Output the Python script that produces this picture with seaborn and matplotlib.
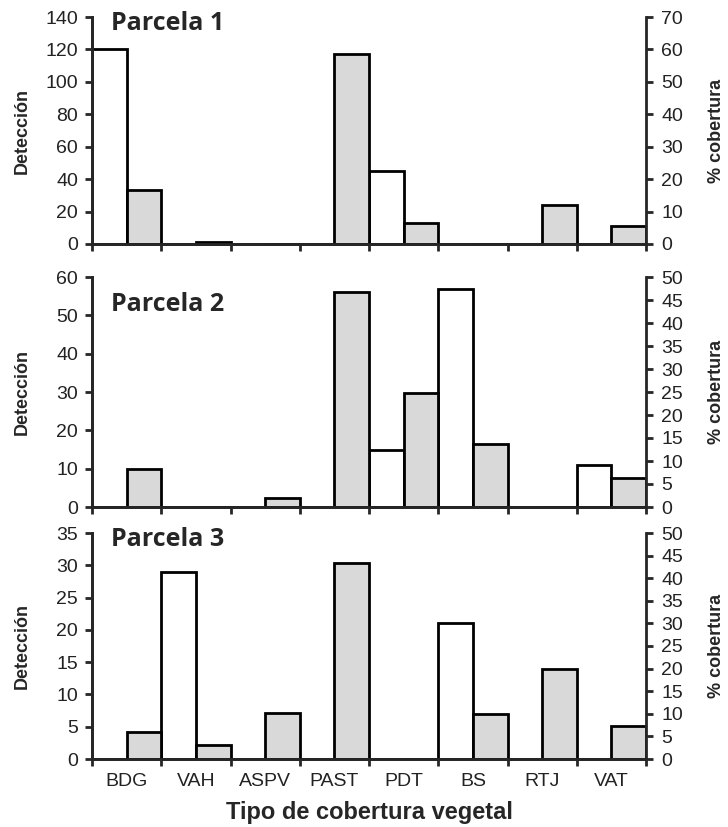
import numpy as np
import pandas as pd
import matplotlib
matplotlib.use("Agg")
import matplotlib.pyplot as plt
import seaborn as sns

# datos
categorias = ["BDG", "VAH", "ASPV", "PAST", "PDT", "BS", "RTJ", "VAT"]

deteccion_p1 = [120, 0, 0, 0, 45, 0, 0, 0]
cobertura_p1 = [16.5, 0.7, 0, 58.7, 6.5, 0, 12, 5.5]

deteccion_p2 = [0, 0, 0, 0, 15, 57, 0, 11]
cobertura_p2 = [8.2, 0, 1.9, 46.7, 24.7, 13.6, 0, 6.4]

deteccion_p3 = [0, 29, 0, 0, 0, 21, 0, 0]
cobertura_p3 = [5.9, 3.1, 10.2, 43.4, 0, 10, 20, 7.4]

titulos = ["Parcela 1", "Parcela 2", "Parcela 3"]
det_lims = [(140, 20), (60, 10), (35, 5)]
cob_lims = [(70, 10), (50, 5), (50, 5)]

sns.set_style("ticks")
plt.rcParams["font.family"] = ["Liberation Sans", "DejaVu Sans"]

GRIS = "#d9d9d9"
LW = 2.0
TICK_FS = 14


def panel(ax, det, cob, titulo, det_lim, cob_lim, ultimo, y_titulo):
    n = len(categorias)
    df = pd.DataFrame({
        "Tipo": categorias * 2,
        "Serie": ["det"] * n + ["cob"] * n,
        "det": list(det) + [np.nan] * n,
        "cob": [np.nan] * n + list(cob),
    })
    colores = {"det": "white", "cob": GRIS}
    sns.barplot(data=df, x="Tipo", y="det", hue="Serie", hue_order=["det", "cob"],
                palette=colores, width=1.0, dodge=True, saturation=1,
                edgecolor="black", linewidth=LW, errorbar=None, legend=False, ax=ax)
    ax2 = ax.twinx()
    sns.barplot(data=df, x="Tipo", y="cob", hue="Serie", hue_order=["det", "cob"],
                palette=colores, width=1.0, dodge=True, saturation=1,
                edgecolor="black", linewidth=LW, errorbar=None, legend=False, ax=ax2)

    ax.set_xlim(-0.5, n - 0.5)
    ax.set_ylim(0, det_lim[0])
    ax.set_yticks(np.arange(0, det_lim[0] + 0.1, det_lim[1]))
    ax2.set_ylim(0, cob_lim[0])
    ax2.set_yticks(np.arange(0, cob_lim[0] + 0.1, cob_lim[1]))

    ax.set_xticks(range(n))
    ax.set_xticks(np.arange(-0.5, n, 1.0), minor=True)
    ax.tick_params(axis="x", which="major", length=0, pad=10, labelsize=TICK_FS,
                   labelbottom=ultimo, labelcolor="#222222")
    ax.tick_params(axis="x", which="minor", length=5, width=LW, direction="out")
    ax.tick_params(axis="y", length=5, width=LW, direction="out", pad=5,
                   labelsize=TICK_FS, labelcolor="#222222")
    ax2.tick_params(axis="y", length=5, width=LW, direction="out", pad=6,
                    labelsize=TICK_FS, labelcolor="#222222")
    ax2.tick_params(axis="x", which="both", bottom=False, labelbottom=False)
    if ultimo:
        ax.set_xticklabels(categorias)

    ax.set_xlabel("")
    ax2.set_xlabel("")
    ax.set_ylabel("Detección", fontsize=13, fontweight="bold")
    ax2.set_ylabel("% cobertura", fontsize=13, fontweight="bold")
    ax.yaxis.set_label_coords(-0.11, 0.5)
    ax2.yaxis.set_label_coords(1.112, 0.5)

    for a in (ax, ax2):
        a.spines["top"].set_visible(False)
        for s in ("left", "right", "bottom"):
            a.spines[s].set_linewidth(LW)
    ax.spines["right"].set_visible(False)

    ax2.text(0.034, y_titulo, titulo, transform=ax2.transAxes, va="top", ha="left",
             fontsize=18, fontweight="bold", family=["Open Sans", "DejaVu Sans"])


fig = plt.figure(figsize=(7.28, 8.27), dpi=100)
izq, ancho = 92 / 728, 554 / 728
posiciones = [(17, 244), (277, 507), (533, 759)]
datos = [(deteccion_p1, cobertura_p1), (deteccion_p2, cobertura_p2), (deteccion_p3, cobertura_p3)]
y_titulos = [1.025, 0.935, 1.025]

for i, ((top, bot), (det, cob)) in enumerate(zip(posiciones, datos)):
    ax = fig.add_axes([izq, 1 - bot / 827, ancho, (bot - top) / 827])
    panel(ax, det, cob, titulos[i], det_lims[i], cob_lims[i], i == 2, y_titulos[i])

fig.text(369 / 728, 1 - 813 / 827, "Tipo de cobertura vegetal", ha="center", va="center",
         fontsize=17, fontweight="bold")

fig.savefig("out.png", dpi=100)
